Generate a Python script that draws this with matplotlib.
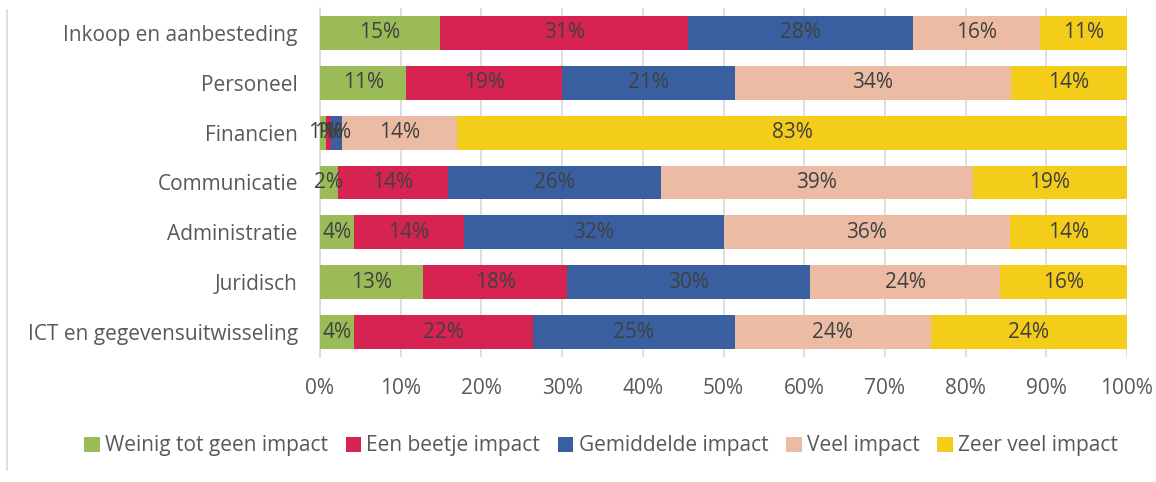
import matplotlib.pyplot as plt
from matplotlib.lines import Line2D
import numpy as np

categories = ["Inkoop en aanbesteding", "Personeel", "Financien", "Communicatie",
              "Administratie", "Juridisch", "ICT en gegevensuitwisseling"]
series_names = ["Weinig tot geen impact", "Een beetje impact", "Gemiddelde impact",
                "Veel impact", "Zeer veel impact"]
weinig = [14.9, 10.7, 0.7, 2.2, 4.2, 12.8, 4.2]
beetje = [30.7, 19.3, 0.7, 13.6, 13.6, 17.8, 22.2]
gemiddeld = [27.9, 21.4, 1.3, 26.4, 32.2, 30.1, 25.0]
veel = [15.7, 34.2, 14.3, 38.7, 35.5, 23.6, 24.3]
zeer_veel = [10.8, 14.4, 83.0, 19.1, 14.5, 15.7, 24.3]
colors = ["#9BBB59", "#D62352", "#3A5FA0", "#EBBBA4", "#F4CC1A"]

plt.rcParams['font.family'] = ['Open Sans', 'DejaVu Sans']
fs = 15

fig = plt.figure(figsize=(11.56, 4.82), dpi=100)
ax = fig.add_axes([320 / 1156, 1 - 357 / 482, 807 / 1156, 349 / 482])

y = np.arange(len(categories))
left = np.zeros(len(categories))
for name, vals, col in zip(series_names, [weinig, beetje, gemiddeld, veel, zeer_veel], colors):
    vals = np.array(vals)
    bars = ax.barh(y, vals, left=left, height=0.68, color=col, label=name, zorder=3)
    for b, v in zip(bars, vals):
        ax.text(b.get_x() + b.get_width() / 2, b.get_y() + b.get_height() / 2,
                f"{round(v):.0f}%", ha='center', va='center', fontsize=fs,
                color='#404040', zorder=4)
    left += vals

ax.set_xlim(0, 100)
ax.set_ylim(6.5, -0.5)
ax.set_xticks(np.arange(0, 101, 10))
ax.set_xticklabels([f"{t}%" for t in range(0, 101, 10)])
ax.set_yticks(y)
ax.set_yticklabels(categories)
ax.tick_params(axis='both', length=0, labelsize=fs, colors='#595959')
ax.tick_params(axis='x', pad=15)
ax.tick_params(axis='y', pad=16)
ax.grid(axis='x', color='#D9D9D9', linewidth=1.2, zorder=0)
for s in ['top', 'right', 'bottom']:
    ax.spines[s].set_visible(False)
ax.spines['left'].set_color('#D9D9D9')
ax.spines['left'].set_linewidth(1.2)

leg = fig.legend(loc='center', bbox_to_anchor=(601 / 1156, 1 - 446 / 482), ncol=5,
                 frameon=False, fontsize=fs, handlelength=0.75, handleheight=0.75,
                 handletextpad=0.25, columnspacing=0.85)
for t in leg.get_texts():
    t.set_color('#595959')

fig.add_artist(Line2D([7 / 1156, 7 / 1156], [1 - 470 / 482, 1 - 10 / 482],
                      transform=fig.transFigure, color='#D9D9D9', linewidth=1.2))

fig.savefig("out.png", dpi=100)
